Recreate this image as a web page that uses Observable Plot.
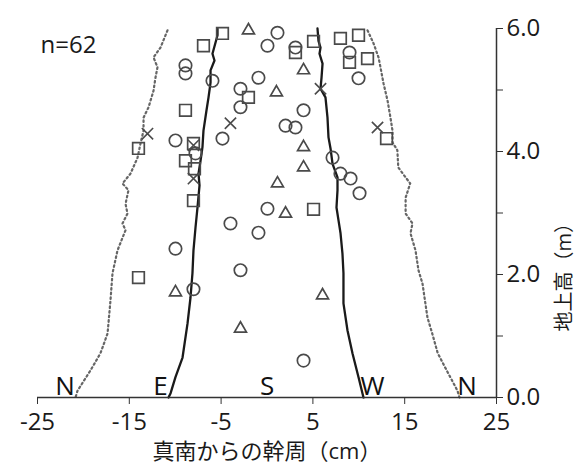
<!DOCTYPE html>
<html><head><meta charset="utf-8">
<script src="https://cdn.jsdelivr.net/npm/d3@7"></script>
<script src="https://cdn.jsdelivr.net/npm/@observablehq/plot@0.6"></script>
<style>body{margin:0;background:#fff}</style>
</head><body><div id="chart"></div>
<script>
// axis ticks
const xTicks = [-25, -15, -5, 5, 15, 25];
const yTicks = [0, 2, 4, 6];
const yMinorTicks = [1, 3, 5];
const xLabel = "真南からの幹周（cm）";
const yLabel = "地上高（m）";
const nLabel = "n=62";
const compassLabels = ["N", "E", "S", "W", "N"];
const compassX = [-22, -11.6, 0, 11.5, 21.8];

// stem outline (solid) and crown outline (dotted)
const leftSolidX = [-5.39,-5.39,-5.94,-5.72,-6.15,-6.15,-6.37,-6.59,-6.92,-7.03,-7.24,-7.46,-7.35,-7.57,-7.79,-8.01,-8.12,-8.33,-8.66,-9.2,-9.97,-10.5,-10.73];
const leftSolidY = [6.0,5.89,5.59,5.48,5.32,5.12,4.88,4.67,4.34,4.07,3.85,3.64,3.45,3.09,2.76,2.39,2.02,1.63,1.2,0.65,0.33,0.07,0];
const rightSolidX = [5.5,5.61,5.83,5.72,6.05,5.94,5.83,6.37,6.59,6.7,6.92,7.14,7.68,7.68,7.57,7.79,8.01,8.22,8.33,8.33,8.77,9.31,9.97,10.51];
const rightSolidY = [6.0,5.8,5.69,5.59,5.43,5.2,5.02,4.88,4.55,4.23,4.05,3.8,3.58,3.37,3.09,2.88,2.67,2.34,2.02,1.53,1.09,0.72,0.33,0];
const leftDotX = [-10.84,-11.6,-12.36,-11.93,-12.15,-12.36,-12.9,-13.45,-13.45,-13.78,-14.1,-14.87,-15.74,-15.09,-15.41,-15.2,-15.74,-15.41,-16.29,-16.83,-17.05,-17.37,-18.14,-19.23,-20.64,-20.86];
const leftDotY = [5.97,5.69,5.53,5.37,5.2,4.99,4.72,4.55,4.34,4.13,3.9,3.64,3.48,3.37,3.15,2.99,2.83,2.72,2.39,2.02,1.58,1.04,0.72,0.44,0.11,0];
const rightDotX = [10.95,11.6,12.15,12.36,12.69,13.13,13.45,13.67,13.67,14.2,14.3,15.6,15.1,15.1,15.85,15.63,16.18,16.5,16.94,17.48,18.0,18.6,19.4,20.75,20.97];
const rightDotY = [5.97,5.76,5.53,5.37,5.11,4.83,4.55,4.34,4.15,4.02,3.74,3.48,3.25,2.99,2.83,2.67,2.39,2.07,1.85,1.3,1.04,0.72,0.49,0.11,0];

// observations (n=62)
const squareX = [-4.85,-6.92,3.1,5.07,8.0,9.97,8.99,10.95,-8.88,-2.02,-14.0,-8.01,-8.88,-7.9,-8.01,-14.0,5.07,13.02];
const squareY = [5.92,5.72,5.61,5.79,5.84,5.89,5.45,5.51,4.67,4.88,4.05,4.13,3.85,3.72,3.2,1.95,3.06,4.21];
const circleX = [1.14,0.05,3.1,8.99,9.97,-0.93,-2.89,-2.89,-8.88,-8.88,-5.94,-4.85,-9.97,-7.79,3.98,2.02,3.1,7.14,8.0,9.1,10.08,0.05,-3.98,-0.93,-2.89,-9.97,-8.01,3.98];
const circleY = [5.93,5.72,5.69,5.61,5.19,5.2,5.02,4.72,5.4,5.27,5.15,4.21,4.18,3.97,4.67,4.42,4.39,3.9,3.64,3.56,3.32,3.07,2.83,2.68,2.07,2.42,1.76,0.6];
const triangleX = [-2.02,3.98,1.03,3.98,3.98,1.14,2.02,6.05,-2.89,-9.97];
const triangleY = [5.97,5.32,4.96,4.07,3.74,3.48,2.99,1.66,1.12,1.71];
const crossX = [-13.02,-3.98,-8.01,-8.01,5.83,12.04];
const crossY = [4.29,4.46,4.1,3.56,5.02,4.39];

const markStroke = "#4a4a4a";
const chart = Plot.plot({
  width: 579,
  height: 467,
  marginLeft: 37,
  marginRight: 83,
  marginTop: 28,
  marginBottom: 70,
  x: {domain: [-25, 25]},
  y: {domain: [0, 6]},
  style: {fontFamily: "'Open Sans','Noto Sans CJK JP',sans-serif", color: "#1a1a1a", background: "#fff"},
  marks: [
    Plot.line(leftDotY, {x: leftDotX, y: leftDotY, stroke: "#666", strokeWidth: 2.2, strokeDasharray: "1.6,3"}),
    Plot.line(rightDotY, {x: rightDotX, y: rightDotY, stroke: "#666", strokeWidth: 2.2, strokeDasharray: "1.6,3"}),
    Plot.line(leftSolidY, {x: leftSolidX, y: leftSolidY, stroke: "#1a1a1a", strokeWidth: 2.3}),
    Plot.line(rightSolidY, {x: rightSolidX, y: rightSolidY, stroke: "#1a1a1a", strokeWidth: 2.3}),
    Plot.ruleY([0], {stroke: "#333", strokeWidth: 1.5}),
    Plot.ruleX([25], {stroke: "#333", strokeWidth: 1.5}),
    Plot.axisX({ticks: xTicks, tickFormat: d => String(d), tickSize: 7, tickPadding: 8, fontSize: 24, label: null, stroke: "#333"}),
    Plot.axisY({anchor: "right", ticks: yTicks, tickFormat: d => d.toFixed(1), tickSize: 6, tickPadding: 4, fontSize: 24, label: null, stroke: "#333"}),
    Plot.axisY({anchor: "right", ticks: yMinorTicks, tickFormat: () => "", tickSize: 6, label: null, stroke: "#333"}),
    Plot.text([xLabel], {frameAnchor: "bottom", dy: 54, fontSize: 22, lineAnchor: "middle"}),
    Plot.text([yLabel], {frameAnchor: "right", dx: 68, rotate: -90, fontSize: 20, lineAnchor: "middle"}),
    Plot.text([nLabel], {frameAnchor: "top-left", dx: 3, dy: 17, fontSize: 24, textAnchor: "start", lineAnchor: "middle"}),
    Plot.text(compassLabels, {x: compassX, y: 0, dy: -3, fontSize: 26, lineAnchor: "bottom", textAnchor: "middle", fill: "#111"}),
    Plot.dot(squareY, {x: squareX, y: squareY, symbol: "square2", r: 7.4, stroke: markStroke, strokeWidth: 1.7, fill: "none"}),
    Plot.dot(circleY, {x: circleX, y: circleY, symbol: "circle", r: 6.2, stroke: markStroke, strokeWidth: 1.7, fill: "none"}),
    Plot.dot(triangleY, {x: triangleX, y: triangleY, symbol: "triangle2", r: 5.7, stroke: markStroke, strokeWidth: 1.7, fill: "none"}),
    Plot.dot(crossY, {x: crossX, y: crossY, symbol: "times", r: 5.2, stroke: markStroke, strokeWidth: 1.6, fill: "none"})
  ]
});
document.getElementById("chart").appendChild(chart);
</script>
</body></html>
